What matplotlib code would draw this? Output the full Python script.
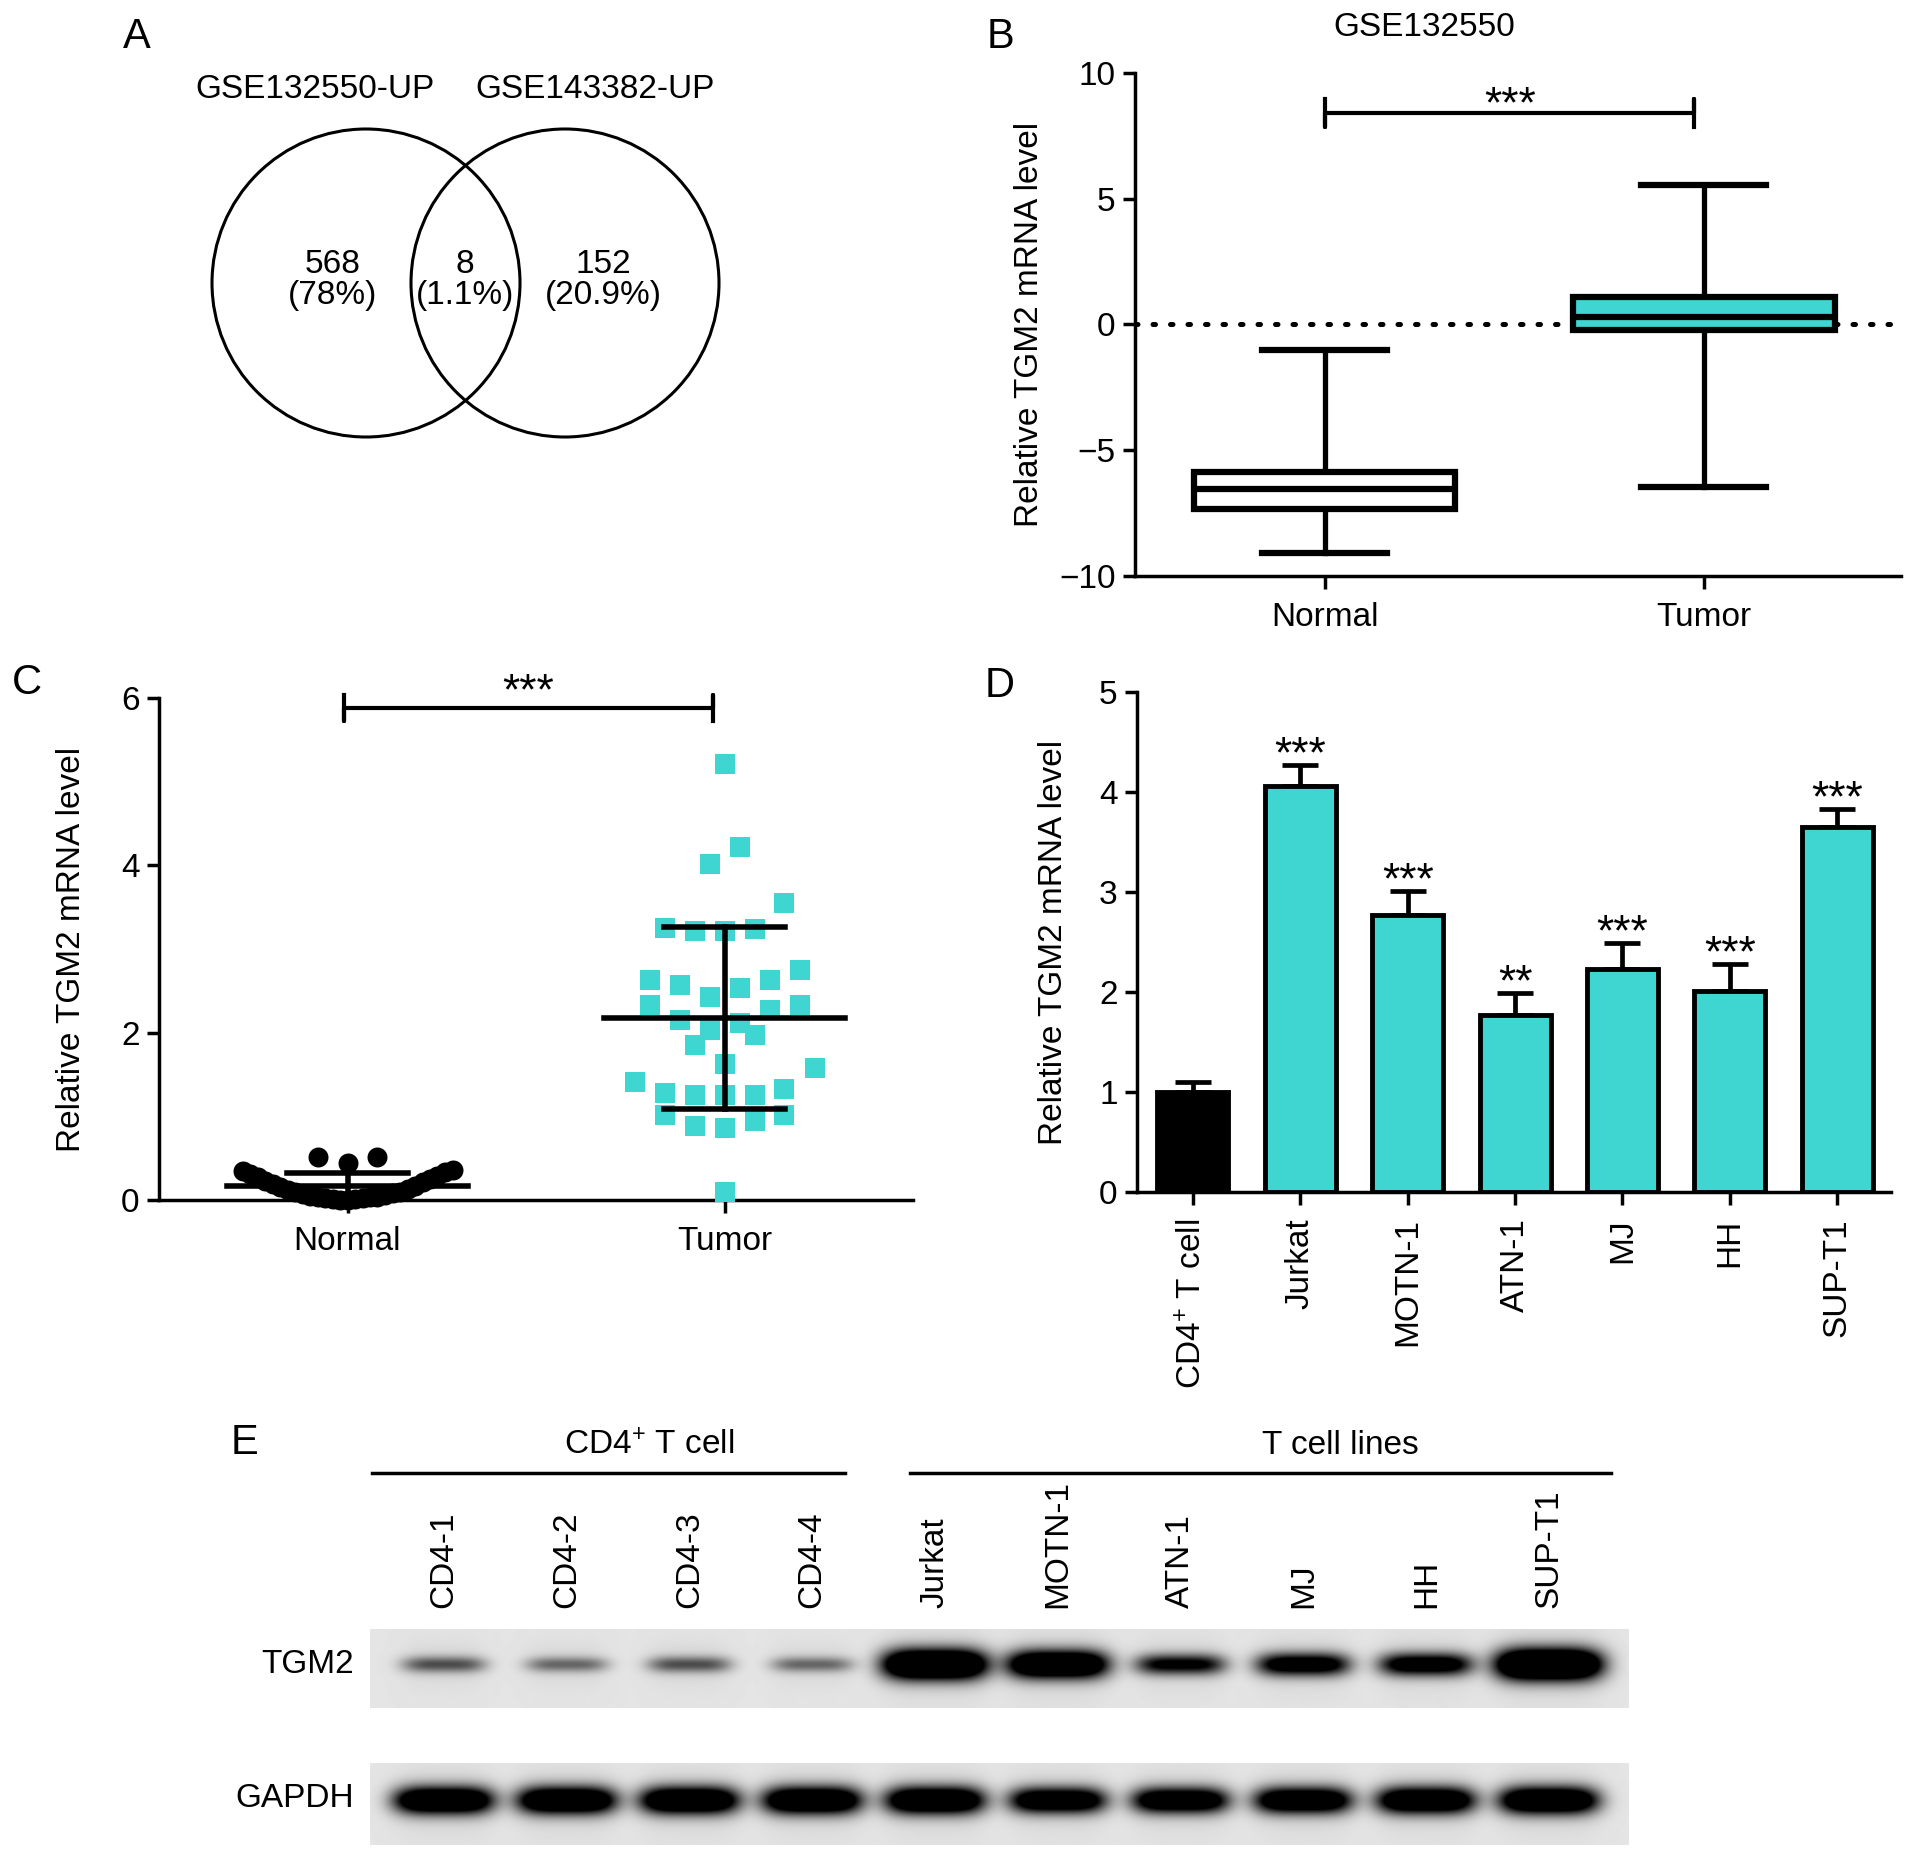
import numpy as np
import matplotlib.pyplot as plt
from matplotlib.patches import Circle
from matplotlib.transforms import blended_transform_factory

plt.rcParams['font.family'] = ['Liberation Sans', 'DejaVu Sans']
plt.rcParams['mathtext.default'] = 'regular'
plt.rcParams['axes.linewidth'] = 2.5

W, H = 1913, 1860
CYAN = '#3fd6d2'
FS = 24

# ---- A: venn counts (left only, shared, right only)
venn_names = ['GSE132550-UP', 'GSE143382-UP']
venn_counts = [568, 8, 152]

# ---- B: box plot GSE132550
box_labels = ['Normal', 'Tumor']
box_whislo = [-9.1, -6.45]
box_q1 = [-7.35, -0.2]
box_med = [-6.55, 0.3]
box_q3 = [-5.85, 1.1]
box_whishi = [-1.0, 5.55]

# ---- C: qPCR samples
normal_vals = [0.00, 0.00, 0.01, 0.01, 0.02, 0.02, 0.03, 0.03, 0.04, 0.05,
               0.06, 0.07, 0.08, 0.09, 0.10, 0.12, 0.13, 0.15, 0.17, 0.19,
               0.21, 0.23, 0.25, 0.27, 0.29, 0.31, 0.33, 0.35, 0.36,
               0.44, 0.51, 0.51]
tumor_vals = [5.21, 4.22, 4.01, 3.55, 3.24, 3.21, 3.21, 3.25, 2.75, 2.63,
              2.53, 2.43, 2.57, 2.63, 2.33, 2.27, 2.33, 2.15, 2.03, 2.11,
              1.97, 1.85, 1.63, 1.58, 1.33, 1.25, 1.28, 1.25, 1.25, 1.41,
              1.02, 0.88, 0.86, 0.94, 1.02, 0.10]

# ---- D: cell lines
cell_lines = ['CD4$^{+}$ T cell', 'Jurkat', 'MOTN-1', 'ATN-1', 'MJ', 'HH', 'SUP-T1']
mrna_mean = [1.0, 4.06, 2.77, 1.77, 2.23, 2.01, 3.65]
mrna_err = [0.10, 0.21, 0.24, 0.22, 0.26, 0.27, 0.18]
mrna_sig = ['', '***', '***', '**', '***', '***', '***']

# ---- E: western blot
lane_names = ['CD4-1', 'CD4-2', 'CD4-3', 'CD4-4', 'Jurkat', 'MOTN-1',
              'ATN-1', 'MJ', 'HH', 'SUP-T1']
group_names = ['CD4$^{+}$ T cell', 'T cell lines']
tgm2_signal = [0.55, 0.45, 0.55, 0.45, 1.8, 1.6, 0.95, 1.15, 1.15, 1.9]
gapdh_signal = [1.5, 1.5, 1.5, 1.5, 1.5, 1.35, 1.35, 1.4, 1.45, 1.5]


def rect(left, top, right, bottom):
    return [left / W, 1 - bottom / H, (right - left) / W, (bottom - top) / H]


def style(ax):
    for s in ['top', 'right']:
        ax.spines[s].set_visible(False)
    ax.tick_params(labelsize=FS, width=2.5, length=9, pad=5)
    ax.tick_params(axis='x', pad=10)


def row_scatter_x(ax, x0, vals, row_h, sp, max_half):
    # prism-like layout: points binned in rows, spread centre-out (pixels)
    vals = np.asarray(vals, float)
    base = ax.transData.transform(np.column_stack([np.full(len(vals), x0), vals]))
    rows = np.floor(vals / row_h + 1e-9)
    off = np.zeros(len(vals))
    for r in np.unique(rows):
        idx = np.where(rows == r)[0]
        idx = idx[np.argsort(vals[idx], kind='stable')]
        n = len(idx)
        s = sp if n <= 1 else min(sp, 2 * max_half / (n - 1))
        pos = (np.arange(n) - (n - 1) / 2) * s
        order = sorted(range(n), key=lambda j: (round(abs(pos[j]), 6), pos[j]))
        for k, j in enumerate(order):
            off[idx[k]] = pos[j]
    pts = np.column_stack([base[:, 0] + off, base[:, 1]])
    return ax.transData.inverted().transform(pts)[:, 0]


fig = plt.figure(figsize=(W / 100, H / 100), dpi=100)

for letter, (px, py) in zip('ABCDE', [(137, 37), (1000, 37), (27, 683), (1000, 686), (244, 1443)]):
    fig.text(px / W, 1 - py / H, letter, fontsize=30, ha='center', va='center')

# ---------------- A
axA = fig.add_axes(rect(150, 40, 760, 480))
axA.set_xlim(150, 760)
axA.set_ylim(480, 40)
axA.axis('off')
for cx in [366, 565]:
    axA.add_patch(Circle((cx, 283), 154, fill=False, lw=2.2, color='black'))
for name, x in zip(venn_names, [315, 595]):
    axA.text(x, 89, name, fontsize=FS, ha='center', va='center')
total = sum(venn_counts)
for c, x in zip(venn_counts, [333, 465, 603]):
    axA.text(x, 280, f'{c}\n({round(100 * c / total, 1):g}%)', fontsize=FS,
             ha='center', va='center', linespacing=1.0)

# ---------------- B
axB = fig.add_axes(rect(1135, 73, 1901, 576))
style(axB)
stats = [dict(whislo=a, q1=b, med=c, q3=d, whishi=e, fliers=[], label=l)
         for a, b, c, d, e, l in zip(box_whislo, box_q1, box_med, box_q3, box_whishi, box_labels)]
bp = axB.bxp(stats, positions=[0, 1], widths=0.69, capwidths=0.33, patch_artist=True,
             showfliers=False,
             boxprops=dict(lw=4.5, edgecolor='black'),
             medianprops=dict(color='black', lw=4.5),
             whiskerprops=dict(lw=3.8, color='black'),
             capprops=dict(lw=4.5, color='black'))
for patch, fc in zip(bp['boxes'], ['white', CYAN]):
    patch.set_facecolor(fc)
    patch.set_zorder(3)
for med in bp['medians']:
    med.set_zorder(4)
axB.axhline(0, color='black', lw=3.6, ls=(0, (0.5, 3.0)), dash_capstyle='round', zorder=1)
axB.set_xlim(-0.5, 1.52)
axB.set_ylim(-10, 10)
axB.set_yticks([-10, -5, 0, 5, 10])
axB.set_xticks([0, 1], box_labels)
axB.set_ylabel('Relative TGM2 mRNA level', fontsize=FS)
axB.yaxis.set_label_coords(-0.118, 0.5)
fig.text(1424 / W, 1 - 27 / H, 'GSE132550', fontsize=FS, ha='center', va='center')
axB.plot([0, 0, 0, 0.975, 0.975, 0.975], [8.95, 7.85, 8.4, 8.4, 8.95, 7.85], color='black', lw=3)
axB.text(0.49, 8.25, '***', fontsize=32, ha='center', va='baseline')

# ---------------- C
axC = fig.add_axes(rect(159, 698, 913, 1200))
style(axC)
axC.set_xlim(-0.5, 1.5)
axC.set_ylim(0, 6)
axC.set_yticks([0, 2, 4, 6])
axC.set_xticks([0, 1], box_labels)
axC.set_ylabel('Relative TGM2 mRNA level', fontsize=FS)
axC.yaxis.set_label_coords(-0.095, 0.5)
xn = row_scatter_x(axC, 0, normal_vals, 0.4, 30, 105)
xt = row_scatter_x(axC, 1, tumor_vals, 0.4, 30, 105)
axC.scatter(xn, normal_vals, s=207, marker='o', color='black', lw=0, clip_on=False, zorder=3)
axC.scatter(xt, tumor_vals, s=207, marker='s', color=CYAN, lw=0, clip_on=False, zorder=3)
for x0, vals in [(0, normal_vals), (1, tumor_vals)]:
    m = np.mean(vals)
    sd = np.std(vals, ddof=1)
    axC.plot([x0 - 0.32, x0 + 0.32], [m, m], color='black', lw=4, zorder=4)
    axC.plot([x0, x0], [m - sd, m + sd], color='black', lw=4, zorder=4)
    for yy in [m - sd, m + sd]:
        axC.plot([x0 - 0.16, x0 + 0.16], [yy, yy], color='black', lw=4, zorder=4)
axC.plot([-0.01, -0.01, -0.01, 0.97, 0.97, 0.97], [6.03, 5.73, 5.88, 5.88, 6.03, 5.73],
         color='black', lw=3, clip_on=False)
axC.text(0.48, 5.93, '***', fontsize=32, ha='center', va='baseline')

# ---------------- D
axD = fig.add_axes(rect(1137, 692, 1891, 1192))
style(axD)
xd = np.arange(len(cell_lines))
axD.errorbar(xd, mrna_mean, yerr=[np.zeros(len(xd)), mrna_err], fmt='none', ecolor='black',
             elinewidth=3.4, capsize=13, capthick=3.4, zorder=1)
axD.bar(xd, mrna_mean, width=0.66, color=['black'] + [CYAN] * 6, edgecolor='black',
        lw=3.5, zorder=2)
for x, m, e, s in zip(xd, mrna_mean, mrna_err, mrna_sig):
    if s:
        axD.text(x, m + e - 0.02, s, fontsize=32, ha='center', va='baseline')
axD.set_xlim(-0.52, 6.5)
axD.set_ylim(0, 5)
axD.set_xticks(xd, cell_lines, rotation=90)
axD.set_ylabel('Relative TGM2 mRNA level', fontsize=FS)
axD.yaxis.set_label_coords(-0.09, 0.5)


# ---------------- E
def draw_blot(ax, signal, nx=1260, ny=80):
    xs = np.linspace(-0.6, 9.65, nx)
    ys = np.arange(ny)
    img = np.full((ny, nx), 0.895)
    for lane, a in enumerate(signal):
        hw = 0.30 + 0.07 * a
        hh = 5 + 5.5 * a
        prof_x = np.exp(-np.abs((xs - lane) / hw) ** 4)
        prof_y = np.exp(-((ys - 0.45 * ny) / hh) ** 2)
        smear = np.exp(-((ys - 0.45 * ny) / (3 * hh)) ** 2)
        img -= a * np.outer(prof_y, prof_x)
        img -= 0.05 * np.outer(smear, prof_x)
    ax.imshow(np.clip(img, 0, 1), cmap='gray', vmin=0, vmax=1, extent=(-0.6, 9.65, ny, 0),
              aspect='auto', interpolation='bilinear')
    ax.set_xlim(-0.6, 9.65)
    ax.axis('off')


axT = fig.add_axes(rect(370, 1629, 1629, 1708))
axG = fig.add_axes(rect(370, 1763, 1629, 1845))
draw_blot(axT, tgm2_signal)
draw_blot(axG, gapdh_signal)
axT.text(-0.013, 0.55, 'TGM2', transform=axT.transAxes, ha='right', va='center', fontsize=FS)
axG.text(-0.013, 0.57, 'GAPDH', transform=axG.transAxes, ha='right', va='center', fontsize=FS)

tr = blended_transform_factory(axT.transData, axT.transAxes)
for i, name in enumerate(lane_names):
    axT.text(i, 1.27, name, transform=tr, rotation=90, ha='center', va='bottom', fontsize=FS)
for name, (x0, x1), xc in zip(group_names, [(-0.58, 3.27), (3.8, 9.5)], [1.67, 7.3]):
    axT.plot([x0, x1], [2.97, 2.97], transform=tr, color='black', lw=2.5, clip_on=False)
    axT.text(xc, 3.32, name, transform=tr, ha='center', va='center', fontsize=FS)

fig.savefig('out.png', dpi=100)
